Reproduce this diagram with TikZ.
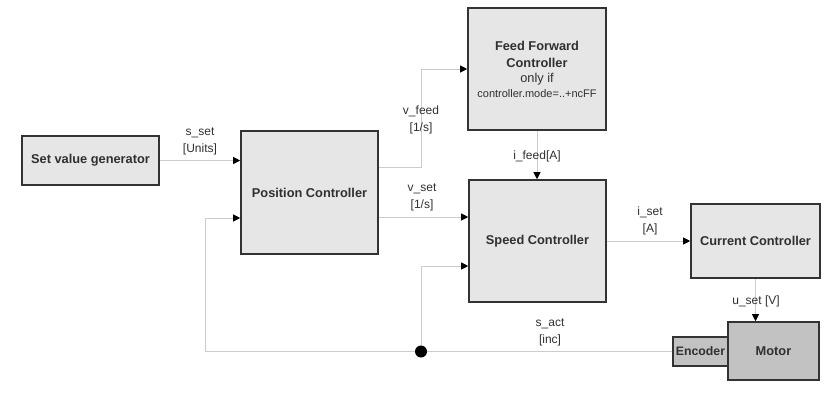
\documentclass[tikz,border=0pt]{standalone}
\usepackage{fontspec}
\setmainfont{Liberation Sans}
\usetikzlibrary{arrows.meta}

\definecolor{boxgray}{HTML}{E6E6E6}
\definecolor{motorgray}{HTML}{C2C2C2}
\definecolor{linegray}{HTML}{CCCCCC}
\definecolor{textgray}{HTML}{303030}

\tikzset{
  block/.style={draw=black!80, line width=1.6pt, fill=boxgray, text=textgray,
    font=\fontsize{12.8}{17}\selectfont\bfseries, inner sep=1pt, align=center},
  sig/.style={color=linegray, line width=0.9pt, -{Triangle[length=7pt,width=7pt,color=black]}},
  lbl/.style={font=\fontsize{12}{17}\selectfont, text=textgray, align=center, inner sep=0pt},
}

\begin{document}
\begin{tikzpicture}[x=1pt,y=-1pt]
\useasboundingbox (0,0) rectangle (834,392);

% blocks
\node[block, minimum width=137pt, minimum height=49pt]  (svg) at (90.5,160.5) {Set value generator};
\node[block, minimum width=137pt, minimum height=123pt] (pc)  at (309.5,192.5) {Position Controller};
\node[block, minimum width=138pt, minimum height=122pt] (ff)  at (537,69)
  {Feed Forward\\Controller\\[-2pt]{\mdseries only if}\\[-2pt]{\mdseries\fontsize{11}{14}\selectfont controller.mode=..+ncFF}};
\node[block, minimum width=137pt, minimum height=122pt] (sc)  at (537.5,241) {Speed Controller};
\node[block, minimum width=129pt, minimum height=74pt]  (cc)  at (755.5,241) {Current Controller};
\node[block, fill=motorgray, minimum width=55pt, minimum height=29pt, font=\fontsize{12.3}{16}\selectfont\bfseries] (enc) at (700.5,351.5) {Encoder};
\node[block, fill=motorgray, minimum width=91pt, minimum height=58pt] (motor) at (773.5,351) {Motor};

% junction and bends
\coordinate (jct) at (421,351.5);
\coordinate (vfeed) at (421,167);
\coordinate (fbk) at (205,351.5);

% signals
\draw[sig] (svg.east) -- (svg.east -| pc.west);
\draw[sig] (pc.east |- vfeed) -- (vfeed) |- (ff.west);
\draw[sig] (pc.east |- 0,217) -- (sc.west |- 0,217);
\draw[sig] (ff.south) -- (ff.south |- sc.north);
\draw[sig] (sc.east) -- (cc.west);
\draw[sig] (cc.south) -- (cc.south |- motor.north);
\draw[sig] (enc.west) -- (fbk) |- (pc.west |- 0,218);
\draw[sig] (jct) |- (sc.west |- 0,266);
\node[circle, fill=black, minimum size=12pt, inner sep=0pt] (jdot) at (jct) {};

% labels
\node[lbl] (sset)  at (200,141)   {s\_set\\{}[Units]};
\node[lbl] (vfd)   at (421,119.5) {v\_feed\\{}[1/s]};
\node[lbl] (vset)  at (422,197.5) {v\_set\\{}[1/s]};
\node[lbl] (ifeed) at (537,156)   {i\_feed[A]};
\node[lbl] (iset)  at (650,220.5) {i\_set\\{}[A]};
\node[lbl] (uset)  at (756,301)   {u\_set [V]};
\node[lbl] (sact)  at (550,332)   {s\_act\\{}[inc]};

\end{tikzpicture}
\end{document}
